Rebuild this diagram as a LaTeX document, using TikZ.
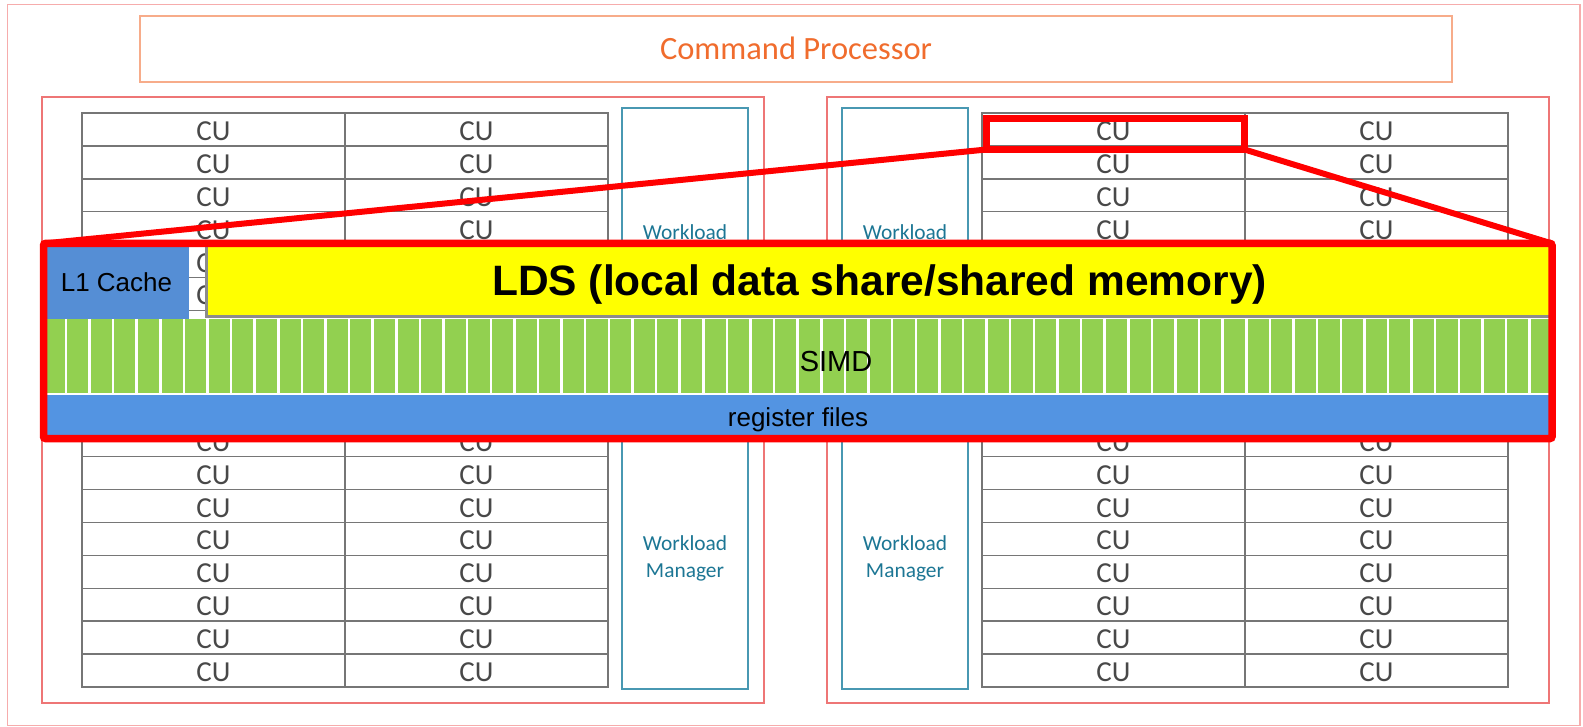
\documentclass[tikz,border=0pt]{standalone}
\usepackage{fontspec}
\newfontfamily\calfont{Carlito}
\newfontfamily\arialfont{Liberation Sans}
\definecolor{outerpink}{RGB}{246,172,172}
\definecolor{grpred}{RGB}{238,118,118}
\definecolor{cpline}{RGB}{247,172,138}
\definecolor{cptext}{RGB}{240,108,45}
\definecolor{wmline}{RGB}{72,152,178}
\definecolor{wmtext}{RGB}{28,118,148}
\definecolor{tablegray}{RGB}{118,118,118}
\definecolor{cutext}{RGB}{72,72,72}
\definecolor{hlred}{RGB}{255,0,0}
\definecolor{ldsyellow}{RGB}{255,255,0}
\definecolor{simdgreen}{RGB}{146,208,80}
\definecolor{l1blue}{RGB}{85,142,213}
\definecolor{regblue}{RGB}{83,148,226}
\definecolor{shadowgray}{RGB}{140,140,140}
\begin{document}
\begin{tikzpicture}[x=1pt,y=-1pt,
  box/.style={inner sep=0pt, outer sep=0pt},
  grp/.style={box, draw=grpred, line width=1.3pt, minimum width=722pt, minimum height=606pt},
  wm/.style={box, draw=wmline, line width=1.3pt, minimum width=126pt, align=center,
    text=wmtext, font=\calfont\fontsize{21.4}{27}\selectfont},
  cu/.style={box, draw=tablegray, line width=1.5pt, minimum width=263pt, minimum height=32.9pt,
    text=cutext, font=\calfont\fontsize{29}{32}\selectfont, text height=22pt, text depth=0pt},
  lane/.style={white, line width=2.5pt},
  zoomline/.style={hlred, line width=6pt}]
\useasboundingbox (0,0) rectangle (1583,727);

% chip outline and command processor
\node[box, draw=outerpink, line width=1.5pt, minimum width=1572.5pt, minimum height=721pt] (chip) at (793.75,365) {};
\node[box, draw=cpline, line width=1.5pt, minimum width=1312pt, minimum height=66pt, text=cptext,
  font=\calfont\fontsize{32.5}{36}\selectfont, text height=20.9pt, text depth=0pt] (cp) at (796,49) {Command Processor};

% two shader-engine halves
\node[grp] (seL) at (403,400) {};
\node[grp] (seR) at (1188,400) {};

% workload managers
\node[wm, minimum height=279pt] (wmLt) at (685,247.5) {Workload\\Manager};
\node[wm, minimum height=261pt] (wmLb) at (685,558.5) {Workload\\Manager};
\node[wm, minimum height=279pt] (wmRt) at (905,247.5) {Workload\\Manager};
\node[wm, minimum height=261pt] (wmRb) at (905,558.5) {Workload\\Manager};

% compute unit tables
\foreach \r in {0,...,7} {
  \foreach \c/\xl/\xr in {0/213.5/1113.5, 1/476.5/1376.5} {
    \node[cu] (lt-\r-\c) at (\xl,{129.45+32.9*\r}) {CU};
    \node[cu] (lb-\r-\c) at (\xl,{440.25+32.9*\r}) {CU};
    \node[cu] (rt-\r-\c) at (\xr,{129.45+32.9*\r}) {CU};
    \node[cu] (rb-\r-\c) at (\xr,{440.25+32.9*\r}) {CU};
  }
}

% highlighted compute unit
\node[box, draw=hlred, line width=7pt, minimum width=258pt, minimum height=31pt] (zs) at (1115.5,134) {};

% enlarged compute unit
\node[box, fill=white, minimum width=1508pt, minimum height=122pt] (base) at (798,377) {};
\node[box, fill=l1blue, minimum width=145pt, minimum height=75.5pt, text=black,
  font=\arialfont\fontsize{26}{30}\selectfont, text height=18.6pt, text depth=0pt] (l1) at (116.5,281.75) {L1 Cache};
\node[box, fill=ldsyellow, minimum width=1347pt, minimum height=73pt, text=black,
  font=\arialfont\bfseries\fontsize{42.5}{48}\selectfont, text height=30.4pt, text depth=0pt] (lds) at (879.5,280.5) {LDS (local data share/shared memory)};
\draw[shadowgray, line width=3pt] (lds.north west) -- (lds.south west) -- (lds.south east);
\node[box, fill=simdgreen, minimum width=1511pt, minimum height=74pt] (simd) at (797.7,356) {};
\foreach \k in {1,...,63}
  \draw[lane] ({42.2+23.61*\k},319) -- ({42.2+23.61*\k},393);
\node[box, text=black, font=\arialfont\fontsize{29}{32}\selectfont, text height=20.8pt, text depth=0pt] (simdlabel) at (836,361) {SIMD};
\node[box, fill=regblue, minimum width=1508pt, minimum height=44pt, text=black,
  font=\arialfont\fontsize{26}{30}\selectfont, text height=19pt, text depth=0pt] (regs) at (798,417) {register files};
\node[box, draw=hlred, line width=7.5pt, rounded corners=2pt, minimum width=1508.5pt, minimum height=195pt] (band) at (797.75,341) {};

% zoom connectors
\draw[zoomline] (zs.south west) -- (band.north west);
\draw[zoomline] (zs.south east) -- (band.north east);
\end{tikzpicture}
\end{document}
